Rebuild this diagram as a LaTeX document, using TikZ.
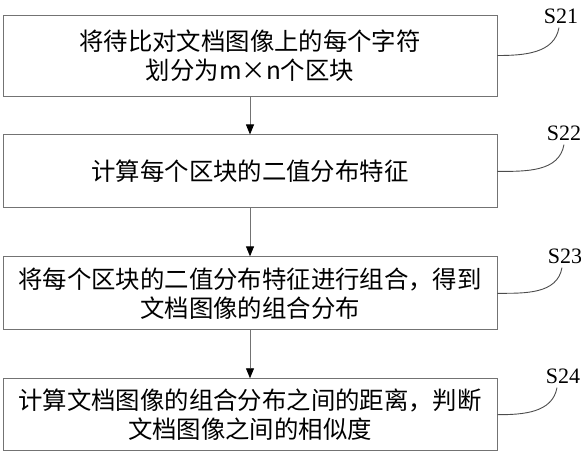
\documentclass[tikz,border=0pt]{standalone}
\usepackage{fontspec}
\setmainfont{Noto Sans CJK SC}
\newfontfamily\labelfont{Liberation Serif}
\usetikzlibrary{arrows.meta,positioning}

\begin{document}
\begin{tikzpicture}[
  x=1pt, y=1pt,
  font=\fontsize{24.4}{29}\selectfont,
  node distance=38pt,
  stepbox/.style={draw=black!55, line width=0.9pt, minimum width=494pt, text width=474pt, inner xsep=10pt, align=center},
  steplabel/.style={font=\labelfont\fontsize{22}{24}\selectfont, inner sep=4pt},
  flow/.style={draw=black!55, line width=0.9pt, -{Triangle[length=10pt, width=8pt, color=black]}},
  lead/.style={draw=black!70, line width=0.9pt}
]
\useasboundingbox (0,0) rectangle (581,-450);

\node[stepbox, minimum height=81pt] (s21) at (250,-55.5) {将待比对文档图像上的每个字符\\划分为m×n个区块};
\node[stepbox, minimum height=73pt, below=38pt of s21] (s22) {计算每个区块的二值分布特征};
\node[stepbox, minimum height=73pt, below=48pt of s22] (s23) {将每个区块的二值分布特征进行组合，得到\\文档图像的组合分布};
\node[stepbox, minimum height=72pt, below=48pt of s23] (s24) {计算文档图像的组合分布之间的距离，判断\\文档图像之间的相似度};

\node[steplabel] (l21) at (561,-16) {S21};
\node[steplabel] (l22) at (564,-133) {S22};
\node[steplabel] (l23) at (565,-256) {S23};
\node[steplabel] (l24) at (563,-376) {S24};

\draw[flow] (s21) -- (s22);
\draw[flow] (s22) -- (s23);
\draw[flow] (s23) -- (s24);

\draw[lead] (s21.east) to[out=0, in=-100] ([xshift=-2pt]l21.south);
\draw[lead] (s22.east) to[out=0, in=-100] (l22.south);
\draw[lead] (s23.east) to[out=0, in=-100] ([xshift=-3pt]l23.south);
\draw[lead] (s24.east) to[out=0, in=-100] ([xshift=-6pt]l24.south);
\end{tikzpicture}
\end{document}
